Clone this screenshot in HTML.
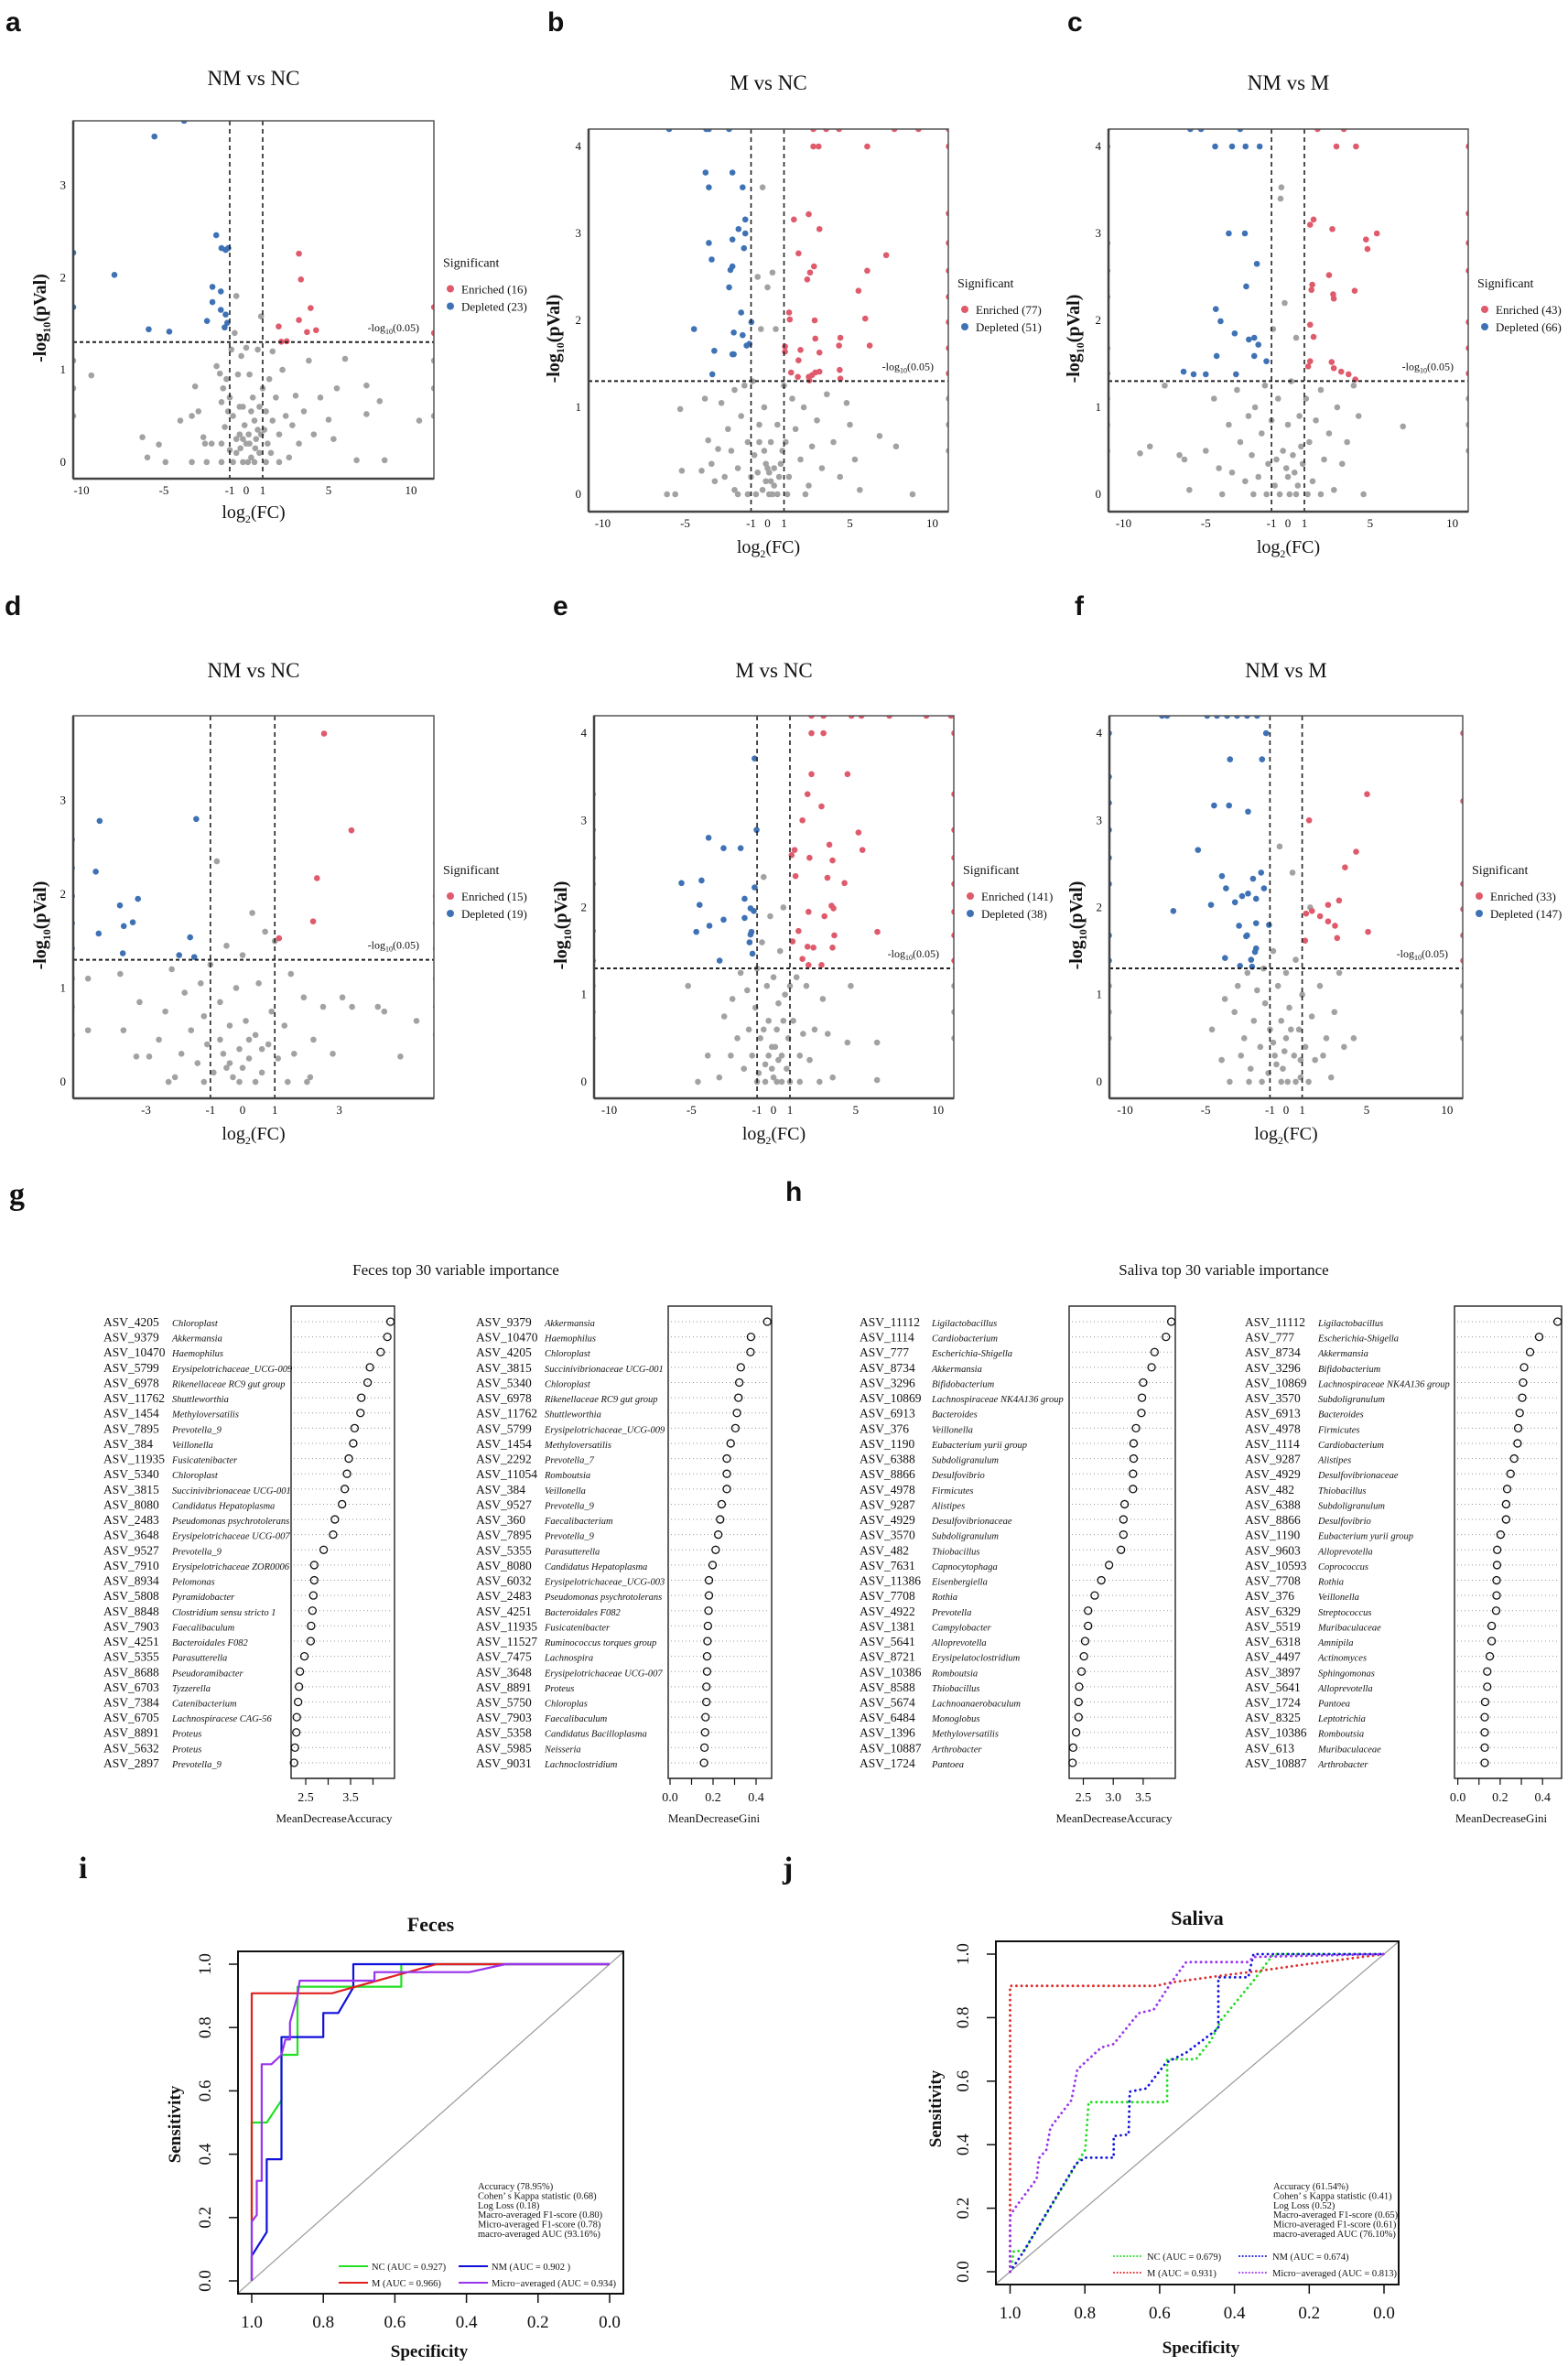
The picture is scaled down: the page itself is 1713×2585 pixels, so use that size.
<!DOCTYPE html>
<html><head><meta charset="utf-8"><style>
html,body{margin:0;padding:0;background:#fff}
svg{display:block}
text{font-family:"Liberation Serif",serif;fill:#111}
.lbl{font-family:"Liberation Sans",sans-serif;font-weight:bold;font-size:30px}
</style></head><body>
<svg id="fig" xmlns="http://www.w3.org/2000/svg" width="1713" height="2585" viewBox="0 0 1713 2585">
<rect width="1713" height="2585" fill="#fff"/>
<text class="lbl" x="6" y="34">a</text>
<text class="lbl" x="598" y="34">b</text>
<text class="lbl" x="1166" y="34">c</text>
<text class="lbl" x="5" y="672">d</text>
<text class="lbl" x="604" y="672">e</text>
<text class="lbl" x="1174" y="672">f</text>
<text x="10" y="1316" style="font-weight:bold;font-size:34px">g</text>
<text class="lbl" x="858" y="1312">h</text>
<text x="86" y="2052" style="font-weight:bold;font-size:34px">i</text>
<text x="855" y="2052" style="font-weight:bold;font-size:34px">j</text>
<text x="498" y="1393" text-anchor="middle" style="font-size:17px">Feces top 30  variable importance</text>
<text x="1337" y="1393" text-anchor="middle" style="font-size:17px">Saliva top 30 variable importance</text>
</svg>
<script>
// ---------- volcano data ----------
const aBlue=[[-3.77,3.7],[-5.57,3.53],[-10.5,2.27],[-8.0,2.03],[-1.82,2.46],[-1.5,2.32],[-1.25,2.3],[-1.09,2.32],[-2.05,1.9],[-1.54,1.85],[-2.05,1.735],[-1.54,1.65],[-1.25,1.6],[-2.38,1.53],[-1.15,1.51],[-1.31,1.46],[-5.92,1.44],[-4.67,1.415],[-10.5,1.68]];
const aRed=[[3.2,2.26],[3.32,1.98],[3.91,1.67],[3.2,1.54],[1.97,1.47],[4.24,1.43],[3.69,1.41],[2.13,1.305],[2.46,1.31],[11.4,1.68],[11.4,1.4]];
const aGray=[[-10.5,1.1],[-10.5,0.8],[-10.5,0.5],[-9.4,0.94],[-6.3,0.27],[-6,0.05],[-5.3,0.19],[-4.9,0],[-4,0.45],[-3.3,0],[-3.3,0.5],[-3.1,0.82],[-2.9,0.55],[-2.6,0.27],[-2.5,0.2],[-2.4,0],[-2.1,0.2],[-1.8,1.04],[-1.6,0.96],[-1.5,0.65],[-1.4,0.8],[-1.3,0.38],[-1.2,0.9],[-1,0.13],[-1,0.7],[-0.9,1.22],[-0.8,0.5],[-0.7,1.4],[-0.6,1.8],[-0.5,0.95],[-0.4,0.3],[-0.3,1.15],[-0.2,0.6],[0,0.2],[0,1.24],[0.2,0.95],[0.3,0.05],[0.4,0.7],[0.5,0.45],[0.6,0.25],[0.7,1.22],[0.8,0.1],[0.9,1.58],[1,0.8],[1.1,0.35],[1.2,0.55],[1.4,0.9],[1.5,0.1],[1.6,1.2],[1.8,0.7],[2,0.3],[2.2,1.0],[2.4,0.5],[2.6,0.05],[2.8,0.4],[3,0.72],[3.2,0.2],[3.5,0.55],[3.8,1.1],[4.1,0.3],[4.5,0.7],[5,0.46],[5.3,0.25],[5.5,0.8],[6,1.12],[6.7,0.02],[7.3,0.52],[7.3,0.83],[8.1,0.66],[8.4,0.02],[10.5,0.45],[11.4,0.8],[11.4,0.5],[11.4,1.1],[-0.1,0.4],[0.15,0.3],[-0.35,0.15],[0.55,0.15],[-0.6,0.25],[0.9,0.3],[-1.5,0.2],[1.3,0.2],[0.1,0.0],[-0.2,0.0],[0.5,0.0],[-0.8,0.0],[1.2,0.0],[-1.5,0],[2,0],[0.3,0.55],[-0.4,0.6],[0.8,0.6],[-1.1,0.55],[1.6,0.45],[0.2,0.2],[-0.6,0.1],[0.7,0.35],[-0.2,0.25]];
const bBlue=[[-5.97,4.2],[-3.72,4.2],[-3.56,4.2],[-2.33,4.2],[-11,4.2],[-3.76,3.7],[-2.13,3.7],[-3.56,3.53],[-1.51,3.53],[-1.35,3.16],[-1.76,3.05],[-1.35,3.0],[-3.56,2.89],[-2.13,2.93],[-1.43,2.83],[-3.39,2.7],[-2.13,2.62],[-2.25,2.58],[-2.33,2.38],[-1.6,2.09],[-0.98,1.98],[-4.46,1.9],[-2.05,1.86],[-1.51,1.83],[-1.1,1.73],[-1.27,1.71],[-3.23,1.65],[-2.13,1.61],[-2.05,1.61],[-3.35,1.38],[-11,3.53],[-11,3.22],[-11,2.89],[-11,2.57],[-11,1.98],[-11,1.68],[-11,1.39]];
const bRed=[[2.78,4.2],[3.56,4.2],[4.34,4.2],[7.7,4.2],[9.16,4.2],[11,4.2],[2.78,4.0],[3.1,4.0],[6.05,4.0],[11,4.0],[2.5,3.22],[1.6,3.16],[3.15,3.05],[1.88,2.77],[7.2,2.75],[2.82,2.62],[2.58,2.55],[6.05,2.57],[2.41,2.47],[5.52,2.34],[1.31,2.09],[1.35,2.01],[2.86,2.0],[5.93,2.02],[2.9,1.79],[4.42,1.8],[1.06,1.7],[2.0,1.66],[1.06,1.64],[6.2,1.71],[4.34,1.71],[3.15,1.63],[1.88,1.54],[1.43,1.4],[2.9,1.4],[3.15,1.41],[4.38,1.43],[4.42,1.33],[2.5,1.35],[2.7,1.37],[1.84,1.35],[2.54,1.31],[11,3.23],[11,2.89],[11,2.57],[11,2.27],[11,1.98],[11,1.68],[11,1.39]];
const bGray=[[-11,1.1],[-11,0.8],[-11,0.5],[-6.1,0],[-5.6,0],[-5.2,0.27],[-5.3,0.98],[-4,0.27],[-3.8,1.1],[-3.6,0.62],[-3.4,0.35],[-3.2,0.15],[-3,0.52],[-2.8,1.05],[-2.6,0.2],[-2.4,0.75],[-2.2,0.5],[-2,0.05],[-2,1.2],[-1.8,0.3],[-1.6,0.9],[-1.4,1.25],[-1.2,0.6],[-1,0.2],[-0.9,1.3],[-0.8,0.45],[-0.6,2.5],[-0.5,0.8],[-0.4,1.9],[-0.3,3.53],[-0.2,1.0],[0,0.3],[0,2.38],[0.2,0.6],[0.3,2.55],[0.4,0.1],[0.5,1.9],[0.6,0.8],[0.8,0.35],[1,1.25],[1.1,0.6],[1.3,0.2],[1.5,1.1],[1.7,0.75],[2,0.4],[2.2,1.0],[2.5,0.1],[2.7,0.55],[3,0.85],[3.3,0.3],[3.6,1.15],[4,0.6],[4.4,0.2],[4.8,1.05],[5,0.8],[5.3,0.4],[5.6,0.05],[6.8,0.67],[7.8,0.55],[8.8,0],[11,1.1],[11,0.8],[11,0.5],[-0.1,0.15],[0.1,0.25],[-0.3,0.05],[0.4,0.3],[-0.6,0.25],[0.7,0.2],[-1.2,0.0],[1.2,0.0],[0.1,0],[-0.5,0.6],[0.6,0.0],[-1.8,0],[2.3,0.0],[-0.2,0.5],[0.9,0.5],[-0.7,0.0],[0.3,0.0],[-0.1,0.35],[0.2,0.15]];
const cBlue=[[-5.94,4.2],[-5.29,4.2],[-2.91,4.2],[-11,4.2],[-4.43,4.0],[-3.4,4.0],[-2.58,4.0],[-1.72,4.0],[-11,4.0],[-3.6,3.0],[-2.62,3.0],[-1.89,2.65],[-2.54,2.39],[-4.39,2.13],[-4.1,1.99],[-3.24,1.85],[-2.38,1.78],[-2.05,1.8],[-1.8,1.72],[-4.34,1.59],[-2.05,1.59],[-1.31,1.53],[-6.35,1.41],[-5.74,1.38],[-5.0,1.38],[-3.16,1.38],[-11,2.89],[-11,2.57],[-11,2.27],[-11,1.68],[-11,1.39]];
const cRed=[[1.8,4.2],[3.4,4.2],[2.95,4.0],[4.14,4.0],[11,4.0],[1.56,3.16],[1.35,3.1],[2.7,3.05],[5.41,3.0],[4.75,2.93],[4.84,2.82],[2.5,2.52],[1.48,2.41],[1.43,2.35],[4.06,2.34],[2.75,2.3],[2.79,2.25],[1.35,1.95],[1.56,1.81],[1.35,1.53],[2.66,1.52],[1.23,1.47],[2.79,1.45],[3.24,1.41],[3.69,1.38],[4.1,1.32],[11,3.23],[11,2.89],[11,2.57],[11,1.98],[11,1.68],[11,1.39]];
const cGray=[[-11,1.1],[-11,0.8],[-11,0.5],[-9,0.47],[-8.4,0.55],[-7.5,1.25],[-6.6,0.45],[-6.3,0.4],[-6,0.05],[-5,0.5],[-4.5,1.1],[-4.2,0.3],[-4,0.0],[-3.6,0.8],[-3.4,0.25],[-3.1,1.2],[-2.9,0.6],[-2.6,0.15],[-2.4,0.9],[-2.2,0.45],[-2,1.0],[-1.8,0.2],[-1.6,0.7],[-1.4,1.25],[-1.2,0.35],[-1,0.85],[-0.9,1.9],[-0.8,0.1],[-0.6,1.1],[-0.45,3.4],[-0.4,3.53],[-0.3,0.5],[-0.2,2.2],[0,0.8],[0,0.2],[0.2,1.3],[0.3,0.45],[0.5,1.8],[0.6,0.1],[0.7,0.9],[0.9,0.35],[1.1,1.1],[1.3,0.6],[1.5,0.15],[1.7,0.85],[2,1.2],[2.2,0.4],[2.5,0.7],[2.8,0.05],[3,1.0],[3.3,0.35],[3.6,0.6],[4,1.25],[4.3,0.9],[4.6,0.0],[7,0.78],[11,1.1],[11,0.8],[11,0.5],[-0.1,0.3],[0.1,0.0],[-0.5,0.0],[0.5,0.0],[-1.3,0.0],[1.2,0.0],[-2.1,0],[2.0,0],[0.4,0.25],[-0.7,0.4],[0.8,0.55]];
const dBlue=[[-4.44,2.78],[-1.44,2.8],[-4.56,2.24],[-3.25,1.95],[-3.81,1.88],[-3.41,1.7],[-3.69,1.66],[-4.47,1.58],[-1.63,1.54],[-3.72,1.37],[-1.97,1.35],[-1.5,1.33],[-5.3,2.58],[-5.3,2.28],[-5.3,1.98],[-5.3,1.69],[-5.3,1.42]];
const dRed=[[2.53,3.71],[3.38,2.68],[2.31,2.17],[2.19,1.71],[1.13,1.53],[6.0,1.98],[6.0,1.69],[6.0,1.42]];
const dGray=[[-5.3,1.1],[-5.3,0.8],[-5.3,0.5],[-4.8,1.1],[-4.8,0.55],[-3.8,1.15],[-3.7,0.55],[-3.2,0.85],[-3.3,0.27],[-2.9,0.27],[-2.6,0.45],[-2.4,0.75],[-2.2,1.2],[-2.1,0.05],[-1.9,0.3],[-1.8,0.95],[-1.6,0.55],[-1.4,0.2],[-1.3,1.05],[-1.2,0.7],[-1.1,0.4],[-1,1.25],[-0.9,0.1],[-0.8,2.35],[-0.7,0.85],[-0.6,0.3],[-0.5,1.45],[-0.4,0.6],[-0.3,0.05],[-0.2,1.0],[-0.1,0.35],[0,0.15],[0,1.35],[0.1,0.65],[0.2,0.25],[0.3,1.8],[0.4,0.5],[0.5,1.05],[0.6,0.1],[0.7,1.6],[0.8,0.4],[0.9,0.75],[1,1.5],[1.1,0.25],[1.3,0.6],[1.5,1.15],[1.6,0.3],[1.9,0.9],[2.1,0.05],[2.2,0.45],[2.5,0.8],[2.8,0.3],[3.1,0.9],[3.4,0.8],[4.2,0.8],[4.4,0.75],[4.9,0.27],[5.4,0.65],[6.0,1.1],[6.0,0.8],[6.0,0.5],[-0.4,0.2],[0.4,0.0],[-1.2,0],[1.4,0],[-2.3,0],[2.0,0],[-0.7,0.45],[0.6,0.35],[-0.1,0.0],[0.2,0.45],[-0.5,0.15]];
const eBlue=[[-1.15,3.71],[-1.03,2.89],[-3.95,2.8],[-3.04,2.68],[-2.0,2.68],[-5.6,2.28],[-4.38,2.31],[-1.15,2.23],[-1.76,2.1],[-4.5,2.03],[-1.4,1.99],[-1.2,1.96],[-1.76,1.88],[-3.04,1.86],[-3.9,1.79],[-1.34,1.72],[-4.7,1.72],[-1.4,1.69],[-1.46,1.6],[-1.28,1.47],[-3.28,1.39],[-11,3.3],[-11,2.89],[-11,2.57],[-11,2.27],[-11,1.73],[-11,1.39]];
const eRed=[[2.31,4.2],[3.04,4.2],[4.74,4.2],[5.35,4.2],[7.05,4.2],[9.3,4.2],[10.8,4.2],[2.31,4.0],[3.04,4.0],[11,4.0],[2.31,3.53],[4.5,3.53],[2.07,3.3],[2.92,3.16],[1.76,3.0],[5.17,2.86],[3.4,2.72],[5.41,2.66],[1.28,2.66],[1.1,2.6],[2.19,2.57],[3.59,2.54],[1.34,2.36],[3.28,2.34],[4.32,2.28],[3.53,2.02],[3.65,1.99],[2.13,1.95],[3.1,1.9],[1.52,1.73],[6.32,1.72],[3.7,1.68],[1.16,1.61],[2.07,1.55],[2.43,1.54],[3.59,1.54],[1.76,1.41],[2.13,1.34],[2.92,1.34],[11,3.3],[11,2.89],[11,2.57],[11,2.27],[11,1.95],[11,1.68],[11,1.39]];
const eGray=[[-11,1.1],[-11,0.8],[-11,0.5],[-5.2,1.1],[-4.6,0.0],[-4.0,0.3],[-3.3,0.05],[-3,0.75],[-2.6,0.3],[-2.5,0.95],[-2.2,0.5],[-2,1.25],[-1.8,0.15],[-1.6,1.05],[-1.5,0.6],[-1.3,0.3],[-1.1,0.85],[-1,1.3],[-0.9,0.1],[-0.8,0.5],[-0.7,1.6],[-0.6,2.35],[-0.5,0.2],[-0.4,1.1],[-0.3,0.7],[-0.2,1.9],[-0.1,0.4],[0,0.05],[0,1.2],[0.2,0.6],[0.3,0.9],[0.4,1.5],[0.5,0.3],[0.6,2.0],[0.7,1.0],[0.8,0.15],[0.9,0.5],[1,1.1],[1.2,0.7],[1.4,1.2],[1.6,0.3],[1.8,0.55],[2,1.1],[2.2,0.25],[2.5,0.6],[2.8,0.0],[3,0.95],[3.3,0.55],[3.6,0.05],[4.5,0.45],[4.7,1.1],[6.3,0.45],[6.3,0.02],[11,1.1],[11,0.8],[11,0.5],[-0.3,0.3],[0.3,0.25],[-1,0],[1.0,0],[0.2,0],[-0.5,0.0],[0.5,0.0],[1.6,0],[-0.1,0.15],[0.1,0.4],[-0.6,0.6],[0.6,0.7]];
const fBlue=[[-7.7,4.2],[-7.39,4.2],[-4.9,4.2],[-4.29,4.2],[-3.66,4.2],[-3.04,4.2],[-2.42,4.2],[-1.8,4.2],[-11,4.0],[-1.24,4.0],[-3.48,3.7],[-1.49,3.7],[-4.47,3.17],[-3.54,3.17],[-2.36,3.1],[-5.47,2.66],[-1.55,2.4],[-3.98,2.36],[-2.05,2.33],[-1.37,2.22],[-3.73,2.22],[-2.36,2.16],[-1.86,2.1],[-2.73,2.13],[-3.17,2.06],[-4.66,2.03],[-7.0,1.96],[-1.86,1.82],[-2.92,1.79],[-1.06,1.8],[-2.42,1.68],[-2.48,1.67],[-1.86,1.53],[-3.79,1.42],[-1.93,1.49],[-2.17,1.4],[-2.86,1.33],[-2.11,1.32],[-11,3.5],[-11,3.2],[-11,2.89],[-11,2.57],[-11,2.27],[-11,1.68],[-11,1.39]];
const fRed=[[5.03,3.3],[1.43,3.0],[4.35,2.64],[3.66,2.46],[3.29,2.08],[2.61,2.03],[1.24,1.93],[1.61,1.96],[2.11,1.9],[2.61,1.84],[3.04,1.79],[5.09,1.72],[3.17,1.65],[1.18,1.62],[11,4.0],[11,3.22],[11,2.27],[11,1.98],[11,1.68],[11,1.39]];
const fGray=[[-11,1.1],[-11,0.8],[-11,0.5],[-4.6,0.6],[-4,0.25],[-3.8,0.95],[-3.5,0],[-3.2,0.8],[-3,1.1],[-2.8,0.3],[-2.6,0.5],[-2.4,1.25],[-2.2,0.15],[-2,0.7],[-1.8,1.05],[-1.6,0.4],[-1.4,1.3],[-1.3,0.9],[-1.1,0.1],[-1,0.6],[-0.8,1.5],[-0.7,0.3],[-0.5,1.1],[-0.4,2.7],[-0.3,0.7],[-0.2,0.15],[0,1.25],[0,0.5],[0.2,0.85],[0.4,2.4],[0.5,0.3],[0.6,1.4],[0.8,0.6],[0.9,0.05],[1,1.0],[1.2,0.4],[1.5,2.0],[1.6,0.75],[1.8,0.25],[2.1,1.1],[2.5,0.5],[2.8,0.05],[3,0.8],[3.3,1.25],[3.6,0.4],[4.2,0.5],[11,1.1],[11,0.8],[11,0.5],[-0.6,0.2],[0.6,0.0],[-1.5,0],[1.4,0],[0.1,0.0],[-0.3,0.0],[-2.3,0],[2.3,0.3],[-0.1,0.35],[0.3,0.6],[-0.8,0.45],[0.9,0.25]];
const aTicksX=[-10,-5,-1,0,1,5,10], wideTicksX=[-10,-5,-1,0,1,5,10], dTicksX=[-3,-1,0,1,3];
const ticksY3=[0,1,2,3], ticksY4=[0,1,2,3,4];
const aLegend=["Enriched (16)","Depleted (23)"], bLegend=["Enriched (77)","Depleted (51)"], cLegend=["Enriched (43)","Depleted (66)"];
const dLegend=["Enriched (15)","Depleted (19)"], eLegend=["Enriched (141)","Depleted (38)"], fLegend=["Enriched (33)","Depleted (147)"];

// ---------- importance data ----------
const gAccAsv=["ASV_4205","ASV_9379","ASV_10470","ASV_5799","ASV_6978","ASV_11762","ASV_1454","ASV_7895","ASV_384","ASV_11935","ASV_5340","ASV_3815","ASV_8080","ASV_2483","ASV_3648","ASV_9527","ASV_7910","ASV_8934","ASV_5808","ASV_8848","ASV_7903","ASV_4251","ASV_5355","ASV_8688","ASV_6703","ASV_7384","ASV_6705","ASV_8891","ASV_5632","ASV_2897"];
const gAccGenus=["Chloroplast","Akkermansia","Haemophilus","Erysipelotrichaceae_UCG-009","Rikenellaceae RC9 gut group","Shuttleworthia","Methyloversatilis","Prevotella_9","Veillonella","Fusicatenibacter","Chloroplast","Succinivibrionaceae UCG-001","Candidatus Hepatoplasma","Pseudomonas psychrotolerans","Erysipelotrichaceae UCG-007","Prevotella_9","Erysipelotrichaceae ZOR0006","Pelomonas","Pyramidobacter","Clostridium sensu stricto 1","Faecalibaculum","Bacteroidales F082","Parasutterella","Pseudoramibacter","Tyzzerella","Catenibacterium","Lachnospiracese CAG-56","Proteus","Proteus","Prevotella_9"];
const gAccVals=[4.39,4.32,4.17,3.93,3.88,3.74,3.72,3.59,3.56,3.46,3.42,3.37,3.31,3.15,3.11,2.90,2.69,2.69,2.67,2.65,2.62,2.61,2.47,2.37,2.35,2.33,2.30,2.29,2.26,2.24];
const gGiniAsv=["ASV_9379","ASV_10470","ASV_4205","ASV_3815","ASV_5340","ASV_6978","ASV_11762","ASV_5799","ASV_1454","ASV_2292","ASV_11054","ASV_384","ASV_9527","ASV_360","ASV_7895","ASV_5355","ASV_8080","ASV_6032","ASV_2483","ASV_4251","ASV_11935","ASV_11527","ASV_7475","ASV_3648","ASV_8891","ASV_5750","ASV_7903","ASV_5358","ASV_5985","ASV_9031"];
const gGiniGenus=["Akkermansia","Haemophilus","Chloroplast","Succinivibrionaceae UCG-001","Chloroplast","Rikenellaceae RC9 gut group","Shuttleworthia","Erysipelotrichaceae_UCG-009","Methyloversatilis","Prevotella_7","Romboutsia","Veillonella","Prevotella_9","Faecalibacterium","Prevotella_9","Parasutterella","Candidatus Hepatoplasma","Erysipelotrichaceae_UCG-003","Pseudomonas psychrotolerans","Bacteroidales F082","Fusicatenibacter","Ruminococcus torques group","Lachnospira","Erysipelotrichaceae UCG-007","Proteus","Chloroplas","Faecalibaculum","Candidatus Bacilloplasma","Neisseria","Lachnoclostridium"];
const gGiniVals=[0.452,0.376,0.374,0.329,0.322,0.318,0.311,0.304,0.282,0.264,0.264,0.264,0.240,0.233,0.224,0.212,0.198,0.181,0.181,0.179,0.176,0.174,0.172,0.172,0.169,0.169,0.165,0.163,0.160,0.158];
const hAccAsv=["ASV_11112","ASV_1114","ASV_777","ASV_8734","ASV_3296","ASV_10869","ASV_6913","ASV_376","ASV_1190","ASV_6388","ASV_8866","ASV_4978","ASV_9287","ASV_4929","ASV_3570","ASV_482","ASV_7631","ASV_11386","ASV_7708","ASV_4922","ASV_1381","ASV_5641","ASV_8721","ASV_10386","ASV_8588","ASV_5674","ASV_6484","ASV_1396","ASV_10887","ASV_1724"];
const hAccGenus=["Ligilactobacillus","Cardiobacterium","Escherichia-Shigella","Akkermansia","Bifidobacterium","Lachnospiraceae NK4A136 group","Bacteroides","Veillonella","Eubacterium yurii group","Subdoligranulum","Desulfovibrio","Firmicutes","Alistipes","Desulfovibrionaceae","Subdoligranulum","Thiobacillus","Capnocytophaga","Eisenbergiella","Rothia","Prevotella","Campylobacter","Alloprevotella","Erysipelatoclostridium","Romboutsia","Thiobacillus","Lachnoanaerobaculum","Monoglobus","Methyloversatilis","Arthrobacter","Pantoea"];
const hAccVals=[3.97,3.88,3.69,3.64,3.50,3.48,3.47,3.38,3.34,3.34,3.33,3.33,3.19,3.17,3.17,3.13,2.93,2.80,2.69,2.58,2.58,2.53,2.51,2.47,2.43,2.42,2.42,2.38,2.33,2.32];
const hGiniAsv=["ASV_11112","ASV_777","ASV_8734","ASV_3296","ASV_10869","ASV_3570","ASV_6913","ASV_4978","ASV_1114","ASV_9287","ASV_4929","ASV_482","ASV_6388","ASV_8866","ASV_1190","ASV_9603","ASV_10593","ASV_7708","ASV_376","ASV_6329","ASV_5519","ASV_6318","ASV_4497","ASV_3897","ASV_5641","ASV_1724","ASV_8325","ASV_10386","ASV_613","ASV_10887"];
const hGiniGenus=["Ligilactobacillus","Escherichia-Shigella","Akkermansia","Bifidobacterium","Lachnospiraceae NK4A136 group","Subdoligranulum","Bacteroides","Firmicutes","Cardiobacterium","Alistipes","Desulfovibrionaceae","Thiobacillus","Subdoligranulum","Desulfovibrio","Eubacterium yurii group","Alloprevotella","Coprococcus","Rothia","Veillonella","Streptococcus","Muribaculaceae","Amnipila","Actinomyces","Sphingomonas","Alloprevotella","Pantoea","Leptotrichia","Romboutsia","Muribaculaceae","Arthrobacter"];
const hGiniVals=[0.471,0.384,0.341,0.313,0.308,0.304,0.292,0.285,0.282,0.266,0.249,0.233,0.228,0.228,0.202,0.186,0.185,0.183,0.183,0.181,0.160,0.160,0.151,0.139,0.139,0.129,0.127,0.127,0.127,0.127];
const accTicksG=[2.5,3.0,3.5,4.0], accTickLabelsG=["2.5","","3.5",""];
const accTicksH=[2.5,3.0,3.5], accTickLabelsH=["2.5","3.0","3.5"];
const giniTicks=[0,0.1,0.2,0.3,0.4], giniTickLabels=["0.0","","0.2","","0.4"];

// ---------- ROC data (specificity, sensitivity) ----------
const iNC=[[1,0],[1,0.5],[0.958,0.5],[0.917,0.57],[0.917,0.714],[0.872,0.714],[0.872,0.929],[0.582,0.929],[0.582,1.0],[0,1]];
const iM=[[1,0.19],[1,0.908],[0.776,0.908],[0.484,1.0],[0,1]];
const iNM=[[1,0],[1,0.079],[0.958,0.154],[0.958,0.384],[0.917,0.384],[0.917,0.77],[0.80,0.77],[0.80,0.846],[0.758,0.846],[0.716,0.927],[0.716,1.0],[0,1]];
const iMicro=[[1,0],[1,0.187],[0.986,0.208],[0.986,0.316],[0.972,0.316],[0.972,0.684],[0.945,0.684],[0.917,0.714],[0.906,0.762],[0.893,0.762],[0.893,0.816],[0.872,0.9],[0.866,0.948],[0.657,0.948],[0.657,0.975],[0.392,0.975],[0.291,1.0],[0,1]];
const jNC=[[1,0],[0.99,0.065],[0.963,0.065],[0.799,0.384],[0.79,0.534],[0.58,0.534],[0.58,0.669],[0.503,0.669],[0.463,0.728],[0.436,0.792],[0.349,0.916],[0.296,1.0],[0,1]];
const jM=[[1,0],[1,0.9],[0.609,0.9],[0.569,0.911],[0.436,0.932],[0.329,0.948],[0.196,0.970],[0,1]];
const jNM=[[1,0],[0.963,0.065],[0.823,0.341],[0.799,0.359],[0.723,0.359],[0.723,0.427],[0.683,0.432],[0.68,0.567],[0.636,0.577],[0.583,0.658],[0.529,0.69],[0.443,0.766],[0.443,0.927],[0.363,0.927],[0.349,1.0],[0,1]];
const jMicro=[[1,0],[1,0.175],[0.99,0.196],[0.929,0.292],[0.923,0.357],[0.903,0.384],[0.892,0.454],[0.836,0.54],[0.82,0.637],[0.756,0.706],[0.723,0.717],[0.656,0.814],[0.616,0.825],[0.569,0.911],[0.529,0.975],[0.363,0.975],[0.349,0.991],[0,1]];
const rocTicks=[0,0.2,0.4,0.6,0.8,1.0], rocTickLabels=["0.0","0.2","0.4","0.6","0.8","1.0"];
const iStats=["Accuracy (78.95%)","Cohen’ s Kappa statistic (0.68)","Log Loss (0.18)","Macro-averaged F1-score (0.80)","Micro-averaged F1-score (0.78)","macro-averaged AUC (93.16%)"];
const jStats=["Accuracy (61.54%)","Cohen’ s Kappa statistic (0.41)","Log Loss (0.52)","Macro-averaged F1-score (0.65)","Micro-averaged F1-score (0.61)","macro-averaged AUC (76.10%)"];
const iLegend=["NC (AUC = 0.927)","NM (AUC = 0.902 )","M (AUC = 0.966)","Micro−averaged (AUC = 0.934)"];
const jLegend=["NC (AUC = 0.679)","NM (AUC = 0.674)","M (AUC = 0.931)","Micro−averaged (AUC = 0.813)"];

const NS="http://www.w3.org/2000/svg";
const svg=document.getElementById('fig');
function mk(tag,attrs,parent){const e=document.createElementNS(NS,tag);for(const k in attrs)e.setAttribute(k,attrs[k]);(parent||svg).appendChild(e);return e;}
function txt(s,attrs,parent){const e=mk('text',attrs,parent);e.textContent=s;return e;}

let clipN=0;
function volcano(c){
  const g=mk('g',{});
  
  
  const sx=v=>c.x0+(v-c.xmin)/(c.xmax-c.xmin)*(c.x1-c.x0);
  const sy=v=>c.y1-(v-c.ymin)/(c.ymax-c.ymin)*(c.y1-c.y0);
  const id='clip'+(clipN++);
  const cp=mk('clipPath',{id:id},g);mk('rect',{x:c.x0,y:c.y0,width:c.x1-c.x0,height:c.y1-c.y0},cp);
  const t=txt(c.title,{x:(c.x0+c.x1)/2,y:c.titleY,'text-anchor':'middle','font-size':23},g);
  
  
  const pg=mk('g',{'clip-path':'url(#'+id+')'},g);
  const sets=[[c.gray,'#a2a2a2','gray-point'],[c.blue,'#3f72b5','depleted-point'],[c.red,'#df5b6c','enriched-point']];
  sets.forEach(s=>s[0].forEach(p=>{
    const d=mk('circle',{cx:sx(p[0]),cy:sy(p[1]),r:3.3,fill:s[1]},pg);
    
    
  }));
  const ln=mk('g',{stroke:'#222','stroke-width':1.6,'stroke-dasharray':'5 4',fill:'none'},g);
  mk('line',{x1:sx(-1),x2:sx(-1),y1:c.y0,y2:c.y1},ln);
  mk('line',{x1:sx(1),x2:sx(1),y1:c.y0,y2:c.y1},ln);
  const th=mk('line',{x1:c.x0,x2:c.x1,y1:sy(1.301),y2:sy(1.301),'stroke-width':2,'stroke-dasharray':'4 3'},ln);
  
  
  const bx=mk('rect',{x:c.x0,y:c.y0,width:c.x1-c.x0,height:c.y1-c.y0,fill:'none',stroke:'#555','stroke-width':1.5},g);
  
  
  mk('line',{x1:c.x0,x2:c.x1,y1:c.y1,y2:c.y1,stroke:'#444','stroke-width':2.5},g);
  mk('line',{x1:c.x0,x2:c.x0,y1:c.y0,y2:c.y1,stroke:'#444','stroke-width':2.5},g);
  c.xticks.forEach(v=>{const e=txt(String(v),{x:sx(v),y:c.y1+17,'text-anchor':'middle','font-size':13},g);
    
    });
  c.yticks.forEach(v=>{const e=txt(String(v),{x:c.x0-8,y:sy(v)+4,'text-anchor':'end','font-size':13},g);
    
    });
  const xl=txt('',{x:(c.x0+c.x1)/2,y:c.xlabY,'text-anchor':'middle','font-size':20},g);
  xl.innerHTML='log<tspan font-size="12" dy="5">2</tspan><tspan dy="-5">(FC)</tspan>';
  
  
  const yc=(c.y0+c.y1)/2+20;
  const yl=txt('',{x:c.ylabX,y:yc,'text-anchor':'middle','font-size':20,'font-weight':'bold',transform:'rotate(-90 '+c.ylabX+' '+yc+')'},g);
  yl.innerHTML='-log<tspan font-size="12" dy="5">10</tspan><tspan dy="-5">(pVal)</tspan>';
  
  
  const tl=txt('',{x:c.x1-16,y:sy(1.301)-12,'text-anchor':'end','font-size':12},g);
  tl.innerHTML='-log<tspan font-size="8" dy="3">10</tspan><tspan dy="-3">(0.05)</tspan>';
  
  
  const lg=mk('g',{},g);
  
  
  const lx=c.x1+10, ly=(c.y0+c.y1)/2-36;
  txt('Significant',{x:lx,y:ly,'font-size':14},lg);
  [['#df5b6c',c.legend[0]],['#3f72b5',c.legend[1]]].forEach((e,i)=>{
    const it=mk('g',{},lg);
    
    
    mk('circle',{cx:lx+8,cy:ly+24+i*19,r:4,fill:e[0]},it);
    txt(e[1],{x:lx+20,y:ly+29+i*19,'font-size':13},it);
  });
}
volcano({name:'volcano-a',title:'NM vs NC',x0:80,x1:474,y0:132,y1:523,xmin:-10.5,xmax:11.39,ymin:-0.18,ymax:3.70,titleY:93,xlabY:566,ylabX:50,xticks:aTicksX,yticks:ticksY3,blue:aBlue,red:aRed,gray:aGray,legend:aLegend});
volcano({name:'volcano-b',title:'M vs NC',x0:643,x1:1036,y0:141,y1:559,xmin:-10.86,xmax:10.97,ymin:-0.20,ymax:4.20,titleY:98,xlabY:604,ylabX:611,xticks:wideTicksX,yticks:ticksY4,blue:bBlue,red:bRed,gray:bGray,legend:bLegend});
volcano({name:'volcano-c',title:'NM vs M',x0:1211,x1:1604,y0:141,y1:559,xmin:-10.92,xmax:10.97,ymin:-0.20,ymax:4.20,titleY:98,xlabY:604,ylabX:1179,xticks:wideTicksX,yticks:ticksY4,blue:cBlue,red:cRed,gray:cGray,legend:cLegend});
volcano({name:'volcano-d',title:'NM vs NC',x0:80,x1:474,y0:782,y1:1200,xmin:-5.26,xmax:5.94,ymin:-0.175,ymax:3.90,titleY:740,xlabY:1245,ylabX:50,xticks:dTicksX,yticks:ticksY3,blue:dBlue,red:dRed,gray:dGray,legend:dLegend});
volcano({name:'volcano-e',title:'M vs NC',x0:649,x1:1042,y0:782,y1:1200,xmin:-10.92,xmax:10.97,ymin:-0.19,ymax:4.20,titleY:740,xlabY:1245,ylabX:619,xticks:wideTicksX,yticks:ticksY4,blue:eBlue,red:eRed,gray:eGray,legend:eLegend});
volcano({name:'volcano-f',title:'NM vs M',x0:1212,x1:1598,y0:782,y1:1200,xmin:-10.97,xmax:10.97,ymin:-0.19,ymax:4.20,titleY:740,xlabY:1245,ylabX:1182,xticks:wideTicksX,yticks:ticksY4,blue:fBlue,red:fRed,gray:fGray,legend:fLegend});

function dotchart(c){
  const g=mk('g',{});
  
  
  const sx=v=>c.px0+(v-c.v0)*c.k;
  const rowY=i=>1444+i*16.62;
  c.vals.forEach((v,i)=>{
    const y=rowY(i);
    mk('line',{x1:c.x0+3,x2:c.x1-3,y1:y,y2:y,stroke:'#999','stroke-width':1,'stroke-dasharray':'1 3'},g);
    const d=mk('circle',{cx:sx(v),cy:y,r:4,fill:'none',stroke:'#111','stroke-width':1.3},g);
    
    
    const a=txt(c.asv[i],{x:c.ax,y:y+5,'font-size':13.5},g);
    
    
    const gn=txt(c.genus[i],{x:c.gx,y:y+5,'font-size':10.5,'font-style':'italic'},g);
    
    
  });
  const f=mk('rect',{x:c.x0,y:1427,width:c.x1-c.x0,height:516,fill:'none',stroke:'#111','stroke-width':1.3},g);
  
  
  c.ticks.forEach((v,i)=>{
    mk('line',{x1:sx(v),x2:sx(v),y1:1943,y2:1950,stroke:'#111','stroke-width':1.2},g);
    if(c.tl[i]){const e=txt(c.tl[i],{x:sx(v),y:1968,'text-anchor':'middle','font-size':14},g);
      
      }
  });
  mk('line',{x1:sx(c.ticks[0]),x2:sx(c.ticks[c.ticks.length-1]),y1:1943,y2:1943,stroke:'#111','stroke-width':1.2},g);
  const xl=txt(c.xlab,{x:c.xlx,y:1991,'text-anchor':'middle','font-size':13},g);
  
  
}
dotchart({name:'feces-accuracy-dotchart',x0:318,x1:431,px0:334,v0:2.5,k:49,asv:gAccAsv,genus:gAccGenus,vals:gAccVals,ax:113,gx:188,ticks:accTicksG,tl:accTickLabelsG,xlab:'MeanDecreaseAccuracy',xlx:365});
dotchart({name:'feces-gini-dotchart',x0:730,x1:843,px0:732,v0:0,k:235,asv:gGiniAsv,genus:gGiniGenus,vals:gGiniVals,ax:520,gx:595,ticks:giniTicks,tl:giniTickLabels,xlab:'MeanDecreaseGini',xlx:780});
dotchart({name:'saliva-accuracy-dotchart',x0:1168,x1:1284,px0:1183.5,v0:2.5,k:65.4,asv:hAccAsv,genus:hAccGenus,vals:hAccVals,ax:939,gx:1018,ticks:accTicksH,tl:accTickLabelsH,xlab:'MeanDecreaseAccuracy',xlx:1217});
dotchart({name:'saliva-gini-dotchart',x0:1589,x1:1706,px0:1592.6,v0:0,k:231.5,asv:hGiniAsv,genus:hGiniGenus,vals:hGiniVals,ax:1360,gx:1440,ticks:giniTicks,tl:giniTickLabels,xlab:'MeanDecreaseGini',xlx:1640});

function roc(c){
  const g=mk('g',{});
  
  
  const sx=s=>c.pxOne+(1-s)*c.kx;
  const sy=v=>c.pyZero-v*c.ky;
  const id='clip'+(clipN++);
  const cp=mk('clipPath',{id:id},g);mk('rect',{x:c.x0,y:c.y0,width:c.x1-c.x0,height:c.y1-c.y0},cp);
  const t=txt(c.title,{x:(c.x0+c.x1)/2,y:c.titleY,'text-anchor':'middle','font-size':22,'font-weight':'bold'},g);
  
  
  const pg=mk('g',{'clip-path':'url(#'+id+')'},g);
  mk('line',{x1:sx(1.2),y1:sy(-0.2),x2:sx(-0.2),y2:sy(1.2),stroke:'#999','stroke-width':1.2},pg);
  const dash=c.dotted?{'stroke-dasharray':'0.1 5.5','stroke-linecap':'round','stroke-width':2.8}:{'stroke-width':2.2};
  c.series.forEach(s=>{
    const a={points:s.pts.map(p=>sx(p[0]).toFixed(1)+','+sy(p[1]).toFixed(1)).join(' '),fill:'none',stroke:s.color,'stroke-linejoin':'round'};
    Object.assign(a,dash);
    const pl=mk('polyline',a,pg);
    
    
  });
  const f=mk('rect',{x:c.x0,y:c.y0,width:c.x1-c.x0,height:c.y1-c.y0,fill:'none',stroke:'#111','stroke-width':2},g);
  
  
  rocTicks.forEach((v,i)=>{
    mk('line',{x1:sx(v),x2:sx(v),y1:c.y1,y2:c.y1+10,stroke:'#111','stroke-width':1.5},g);
    mk('line',{x1:c.x0,x2:c.x0-10,y1:sy(v),y2:sy(v),stroke:'#111','stroke-width':1.5},g);
    const xt=txt(rocTickLabels[i],{x:sx(v),y:c.y1+37,'text-anchor':'middle','font-size':19},g);
    
    
    const yy=sy(v);
    const yt=txt(rocTickLabels[i],{x:c.ytx,y:yy,'text-anchor':'middle','font-size':19,transform:'rotate(-90 '+c.ytx+' '+yy+')'},g);
    
    
  });
  const xl=txt('Specificity',{x:c.xlx,y:c.xly,'text-anchor':'middle','font-size':19,'font-weight':'bold'},g);
  
  
  const yl=txt('Sensitivity',{x:c.ylx,y:c.yly,'text-anchor':'middle','font-size':19,'font-weight':'bold',transform:'rotate(-90 '+c.ylx+' '+c.yly+')'},g);
  
  
  c.stats.forEach((s,i)=>{const e=txt(s,{x:c.stx,y:c.sty+i*10.4,'font-size':10.5},g);
    
    });
  c.legend.forEach((s,i)=>{
    const it=mk('g',{},g);
    
    
    const lx=c.legX[i%2], ly=c.legY[Math.floor(i/2)];
    const a={x1:lx,x2:lx+32,y1:ly,y2:ly,stroke:c.series[i].color};
    Object.assign(a,c.dotted?{'stroke-dasharray':'0.1 3.5','stroke-linecap':'round','stroke-width':2}:{'stroke-width':2});
    mk('line',a,it);
    txt(s,{x:lx+36,y:ly+4,'font-size':10.5},it);
  });
}
roc({name:'roc-feces',title:'Feces',x0:260,x1:681,y0:2132,y1:2506,pxOne:275,kx:391,pyZero:2492,ky:346,titleY:2110,ytx:230,xlx:469,xly:2575,ylx:197,yly:2321,stx:522,sty:2392,
  series:[{pts:iNC,color:'#22e022',name:'nc-roc-curve'},{pts:iNM,color:'#1010dd',name:'nm-roc-curve'},{pts:iM,color:'#e02020',name:'m-roc-curve'},{pts:iMicro,color:'#9933ee',name:'micro-roc-curve'}],
  stats:iStats,legend:iLegend,legX:[370,501],legY:[2476,2494],dotted:false});
roc({name:'roc-saliva',title:'Saliva',x0:1088,x1:1528,y0:2121,y1:2496,pxOne:1103.5,kx:408.5,pyZero:2482,ky:347,titleY:2103,ytx:1058,xlx:1312,xly:2571,ylx:1028,yly:2304,stx:1391,sty:2392,
  series:[{pts:jNC,color:'#22dd22',name:'nc-roc-curve'},{pts:jNM,color:'#1515dd',name:'nm-roc-curve'},{pts:jM,color:'#e02a2a',name:'m-roc-curve'},{pts:jMicro,color:'#9a33ee',name:'micro-roc-curve'}],
  stats:jStats,legend:jLegend,legX:[1217,1354],legY:[2465,2483],dotted:true});
</script>
</body></html>
